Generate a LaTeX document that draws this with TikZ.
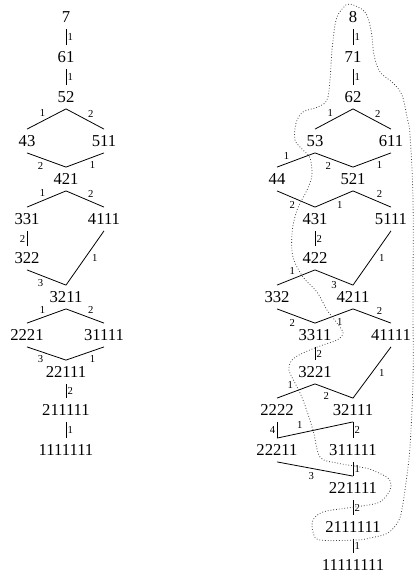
\documentclass[tikz,border=0pt]{standalone}
\usepackage{fontspec}
\setmainfont{Liberation Serif}
\tikzset{
% Styles for the partitions and the small numbers on the edges
part node/.style={inner sep=0pt,minimum height=17.25pt},
side label/.style={font=\fontsize{8}{9}\selectfont,inner sep=1pt},
slant label/.style={font=\fontsize{8}{9}\selectfont,inner sep=3pt},
loop line/.style={black!75,line width=0.6pt,dash pattern=on 0.6pt off 1.5pt}
}

\begin{document}
\begin{tikzpicture}[x=0.75pt,y=-0.75pt,font=\fontsize{12.5}{15}\selectfont,line width=0.6pt]
      \useasboundingbox (0,0) rectangle (414,575);
      % Partitions of 7
      \node(p7)[part node] at (66,17) {7};
      \node(p61)[part node] at (66,57) {61};
      \node(p52)[part node] at (66,97) {52};
      \node(p43)[part node] at (27,141) {43};
      \node(p511)[part node] at (104,141) {511};
      \node(p421)[part node] at (66,179) {421};
      \node(p331)[part node] at (27,219) {331};
      \node(p4111)[part node] at (104,219) {4111};
      \node(p322)[part node] at (27,258) {322};
      \node(p3211)[part node] at (66,297) {3211};
      \node(p2221)[part node] at (27,335) {2221};
      \node(p31111)[part node] at (104,335) {31111};
      \node(p22111)[part node] at (66,372) {22111};
      \node(p211111)[part node] at (66,410) {211111};
      \node(p1111111)[part node] at (66,450) {1111111};
      % Edges of the first lattice
      \draw (p7.south) -- node[side label,right]{1} (p61.north);
      \draw (p61.south) -- node[side label,right]{1} (p52.north);
      \draw (p52.south) -- node[slant label,pos=.6,above]{1} (p43.north);
      \draw (p52.south) -- node[slant label,pos=.65,above]{2} (p511.north);
      \draw (p43.south) -- node[slant label,pos=.35,below]{2} (p421.north);
      \draw (p511.south) -- node[slant label,pos=.3,below]{1} (p421.north);
      \draw (p421.south) -- node[slant label,pos=.6,above]{1} (p331.north);
      \draw (p421.south) -- node[slant label,pos=.65,above]{2} (p4111.north);
      \draw (p331.south) -- node[side label,left]{2} (p322.north);
      \draw (p322.south) -- node[slant label,pos=.35,below]{3} (p3211.north);
      \draw (p4111.south) -- node[side label,right=4pt]{1} (p3211.north);
      \draw (p3211.south) -- node[slant label,pos=.6,above]{1} (p2221.north);
      \draw (p3211.south) -- node[slant label,pos=.65,above]{2} (p31111.north);
      \draw (p2221.south) -- node[slant label,pos=.35,below]{3} (p22111.north);
      \draw (p31111.south) -- node[slant label,pos=.3,below]{1} (p22111.north);
      \draw (p22111.south) -- node[side label,right]{2} (p211111.north);
      \draw (p211111.south) -- node[side label,right]{1} (p1111111.north);
      % Partitions of 8
      \node(p8)[part node] at (353,17) {8};
      \node(p71)[part node] at (353,57) {71};
      \node(p62)[part node] at (353,97) {62};
      \node(p53)[part node] at (315,141) {53};
      \node(p611)[part node] at (391,141) {611};
      \node(p44)[part node] at (277,179) {44};
      \node(p521)[part node] at (353,179) {521};
      \node(p431)[part node] at (315,219) {431};
      \node(p5111)[part node] at (391,219) {5111};
      \node(p422)[part node] at (315,258) {422};
      \node(p332)[part node] at (277,297) {332};
      \node(p4211)[part node] at (353,297) {4211};
      \node(p3311)[part node] at (315,335) {3311};
      \node(p41111)[part node] at (391,335) {41111};
      \node(p3221)[part node] at (315,372) {3221};
      \node(p2222)[part node] at (277,410) {2222};
      \node(p32111)[part node] at (353,410) {32111};
      \node(p22211)[part node] at (277,450) {22211};
      \node(p311111)[part node] at (353,450) {311111};
      \node(p221111)[part node] at (353,488) {221111};
      \node(p2111111)[part node] at (353,527) {2111111};
      \node(p11111111)[part node] at (353,565) {11111111};
      % Edges of the second lattice
      \draw (p8.south) -- node[side label,right]{1} (p71.north);
      \draw (p71.south) -- node[side label,right]{1} (p62.north);
      \draw (p62.south) -- node[slant label,pos=.6,above]{1} (p53.north);
      \draw (p62.south) -- node[slant label,pos=.65,above]{2} (p611.north);
      \draw (p53.south) -- node[slant label,pos=.75,above]{1} (p44.north);
      \draw (p53.south) -- node[slant label,pos=.35,below]{2} (p521.north);
      \draw (p611.south) -- node[slant label,pos=.3,below]{1} (p521.north);
      \draw (p44.south) -- node[slant label,pos=.4,below]{2} (p431.north);
      \draw (p521.south) -- node[slant label,pos=.35,below]{1} (p431.north);
      \draw (p521.south) -- node[slant label,pos=.7,above]{2} (p5111.north);
      \draw (p431.south) -- node[side label,right]{2} (p422.north);
      \draw (p422.south) -- node[slant label,pos=.6,above]{1} (p332.north);
      \draw (p422.south) -- node[slant label,pos=.5,below]{3} (p4211.north);
      \draw (p5111.south) -- node[side label,right=4pt]{1} (p4211.north);
      \draw (p332.south) -- node[slant label,pos=.4,below]{2} (p3311.north);
      \draw (p4211.south) -- node[slant label,pos=.35,below]{1} (p3311.north);
      \draw (p4211.south) -- node[slant label,pos=.7,above]{2} (p41111.north);
      \draw (p3311.south) -- node[side label,right]{2} (p3221.north);
      \draw (p3221.south) -- node[slant label,pos=.65,above]{1} (p2222.north);
      \draw (p3221.south) -- node[slant label,pos=.3,below]{2} (p32111.north);
      \draw (p41111.south) -- node[side label,right=4pt]{1} (p32111.north);
      \draw (p2222.south) -- node[side label,left]{4} (p22211.north);
      \draw (p32111.south) -- node[slant label,pos=.7,above]{1} (p22211.north);
      \draw (p32111.south) -- node[side label,right]{2} (p311111.north);
      \draw (p22211.south) -- node[slant label,pos=.45,below]{3} (p221111.north);
      \draw (p311111.south) -- node[side label,right]{1} (p221111.north);
      \draw (p221111.south) -- node[side label,right]{2} (p2111111.north);
      \draw (p2111111.south) -- node[side label,right]{1} (p11111111.north);
      % dotted loop round the second lattice
      \draw[loop line] plot[smooth cycle,tension=.55] coordinates {
        (350,4) (365,12) (371,30) (374,55) (380,72) (393,83) (402,95)
        (407,117) (410,135) (413,200) (413,300) (413,380) (410,447)
        (407,475) (403,503) (399,520) (388,533) (370,538) (357,540)
        (320,540) (313,532) (313,520) (323,512) (347,508) (362,506)
        (380,502) (390,490) (389,479) (372,470) (360,467) (337,463)
        (320,457) (313,430) (303,400) (295,383) (289,370) (292,360)
        (303,353) (320,346) (337,340) (343,333) (337,323) (327,310)
        (317,292) (303,277) (293,257) (292,233) (297,210) (307,190)
        (312,175) (310,158) (303,150) (295,140) (296,123) (303,112)
        (318,107) (327,100) (330,80) (332,50) (336,20) (343,8)};
\end{tikzpicture}
\end{document}
